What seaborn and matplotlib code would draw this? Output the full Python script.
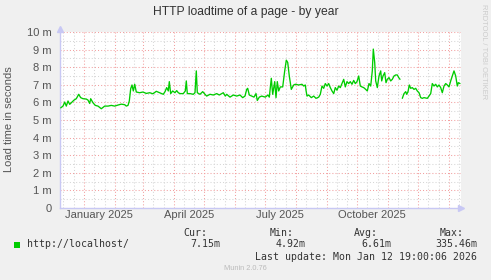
import numpy as np
import pandas as pd
import matplotlib
matplotlib.use("Agg")
import matplotlib.pyplot as plt
import matplotlib.dates as mdates
import matplotlib.transforms as mtransforms
from matplotlib.ticker import MultipleLocator, FuncFormatter, FixedLocator, NullFormatter
from matplotlib.patches import Rectangle
import seaborn as sns

# ---------------- data ----------------
title = "HTTP loadtime of a page - by year"
y_label = "Load time in seconds"
series_name = "http://localhost/"
start_date = "2025-01-01"          # day 0 of the offsets below
x_start, x_end = "2024-12-08", "2026-01-13"

# days since 2025-01-01 (NaN value = gap in data)
days = [-23.3, -21, -19.3, -17.7, -16, -14.3, -12, -10, -7.7, -5.3, -3.3, -1,
        2.3, 4, 5.7, 6.7, 9, 11.3, 14, 17.3, 20.7, 24, 27.3, 30.7, 34, 37.3,
        40.7, 42.3, 44, 45.3, 46.7, 48, 49.3, 50.7, 52.3, 55.7, 59, 62.3, 65.7,
        69, 72.3, 75.7, 79.3, 81, 82.7, 84.3, 85.3, 86.7, 88.7, 91, 92.7, 94.3,
        96, 99.3, 101.3, 102.3, 103.3, 106, 109.3, 111, 112.3, 113.3, 116,
        118.7, 121, 122.7, 126, 129.3, 132.7, 135.3, 137.7, 139.3, 141.3,
        142.7, 146, 149.3, 152.7, 156, 158.7, 161, 162.7, 163.7, 165.3, 167.7,
        170, 172, 173.3, 175.3, 177.7, 181.3, 184, 185.3, 187.3, 188.7, 190.7,
        192, 193.3, 194.7, 196.3, 198.7, 200.7, 202.3, 203.7, 205.3, 207.3,
        209.7, 211.3, 214.7, 218, 219.7, 221.3, 222, 223, 224.7, 227.3, 229.7,
        232, 234.7, 236.3, 238, 239.7, 241.3, 243, 244.7, 246.3, 248, 249.7,
        251.3, 253, 254.7, 256.3, 258, 259.7, 261.3, 263, 264.7, 266.3, 268,
        269.7, 271.3, 273, 274.7, 276.3, 278, 279.7, 281.7, 283.3, 285, 286.7,
        288.3, 289.3, 290.7, 291.7, 293.3, 295, 296.7, 297.7, 299, 300.7, 302,
        303.3, 305, 306.7, 308.3, 310, 311.7, 313.3, 314.7, 316, 317, 318.3,
        320, 321.7, 322.7, 324, 325.3, 326.7, 328.3, 330, 331.7, 333.3, 335,
        336.7, 338.3, 340, 343.3, 345, 346.7, 348.3, 350, 351.7, 353.3, 355,
        356.7, 358.3, 360, 361.7, 363.3, 365, 366.7, 368.3, 370, 371.7, 373.3,
        374.3, 376]
load_ms = [5.69, 5.79, 6.02, 5.79, 6.08, 5.89, 6.02, 6.13, 6.21, 6.46, 6.27, 6.21,
           6.19, 6.13, 5.94, 6.21, 5.98, 5.83, 5.79, 5.64, 5.79, 5.79, 5.83, 5.79,
           5.85, 5.90, 5.87, 5.79, 5.83, 6.08, 6.78, 6.99, 6.65, 7.03, 6.59, 6.55,
           6.59, 6.51, 6.55, 6.49, 6.63, 6.55, 6.46, 6.61, 6.84, 6.65, 7.18, 6.50,
           6.65, 6.55, 6.67, 6.55, 6.50, 6.50, 6.65, 7.22, 6.50, 6.50, 6.46, 6.55,
           7.79, 6.55, 6.46, 6.61, 6.46, 6.36, 6.46, 6.42, 6.50, 6.42, 6.50, 6.55,
           6.36, 6.46, 6.30, 6.42, 6.36, 6.42, 6.27, 6.36, 6.74, 6.80, 6.42, 6.36,
           6.30, 6.50, 6.11, 6.30, 6.36, 6.30, 6.42, 6.30, 7.37, 6.46, 7.18, 6.27,
           7.18, 6.65, 6.88, 6.88, 7.79, 8.40, 8.27, 7.50, 6.74, 6.99, 7.03, 6.99,
           7.03, 6.93, 6.99, 6.69, 6.36, 6.42, 6.27, 6.36, 6.23, 6.30, 6.46, 6.93,
           6.80, 7.07, 6.93, 7.07, 6.84, 6.65, 6.50, 6.84, 6.69, 6.93, 6.84, 7.07,
           7.31, 6.88, 7.18, 7.07, 7.18, 7.03, 7.25, 7.07, 7.18, 7.50, 6.93, 6.88,
           6.84, 6.74, 6.65, 7.07, 6.93, 7.79, 9.03, 8.27, 7.22, 6.84, 7.50, 7.79,
           7.22, 7.50, 7.69, 7.12, 7.31, 7.41, 7.22, 7.31, 7.50, 7.56, 7.56, 7.41,
           7.31, np.nan, 6.23, 6.50, 6.61, 6.46, 6.61, 6.99, 6.80, 6.84, 6.74, 6.80,
           6.65, 6.55, 6.27, 6.23, 6.27, 6.23, 6.36, 6.50, 7.07, 6.93, 7.03, 6.88,
           6.99, 6.84, 6.55, 6.93, 7.07, 6.99, 6.88, 7.22, 7.50, 7.79, 7.50, 6.93,
           7.12, 7.07]

month_labels = ["January 2025", "April 2025", "July 2025", "October 2025"]
month_label_dates = ["2025-01-16", "2025-04-16", "2025-07-16", "2025-10-16"]
y_ticks = [0, 1, 2, 3, 4, 5, 6, 7, 8, 9, 10]
stat_headers = ["Cur:", "Min:", "Avg:", "Max:"]
stat_values = ["7.15m", "4.92m", "6.61m", "335.46m"]
last_update = "Last update: Mon Jan 12 19:00:06 2026"
footer = "Munin 2.0.76"
watermark = "RRDTOOL / TOBI OETIKER"

# ---------------- style ----------------
sns.set_theme(style="white")
plt.rcParams["font.family"] = ["Liberation Sans", "DejaVu Sans"]

W, H = 491, 280
BG = "#F0F0F0"
LINE = "#00CC00"
MAJ = "#F2A0A0"
MIN = "#D6D6D6"
AXC = "#C8C8F4"
TXT = "#555555"

fig = plt.figure(figsize=(W / 100, H / 100), dpi=100, facecolor=BG)
L, R, T, B = 60, 461, 32, 208
ax = fig.add_axes([L / W, 1 - B / H, (R - L) / W, (B - T) / H])
ax.set_facecolor("white")

t0 = pd.Timestamp(start_date)
df = pd.DataFrame({"time": t0 + pd.to_timedelta(days, unit="D"), "value": load_ms})
df["seg"] = df["value"].isna().cumsum()
for _, seg in df.dropna().groupby("seg"):
    sns.lineplot(data=seg, x="time", y="value", color=LINE, linewidth=0.95,
                 estimator=None, sort=False, ax=ax, zorder=5)

ax.set_xlim(pd.Timestamp(x_start), pd.Timestamp(x_end))
ax.set_ylim(0, 10)
ax.set_xlabel("")
ax.set_ylabel("")

# x grid: month starts (red) and thirds of months (grey)
ax.xaxis.set_major_locator(mdates.MonthLocator())
ax.xaxis.set_major_formatter(NullFormatter())
months = pd.date_range("2024-12-01", "2026-02-01", freq="MS")
thirds = []
for m0, m1 in zip(months[:-1], months[1:]):
    span = m1 - m0
    thirds += [m0 + span / 3, m0 + 2 * span / 3]
ax.xaxis.set_minor_locator(FixedLocator(mdates.date2num(thirds)))

ax.yaxis.set_major_locator(FixedLocator(y_ticks))
ax.yaxis.set_minor_locator(MultipleLocator(0.5))
ax.yaxis.set_major_formatter(FuncFormatter(lambda v, p: "0" if v == 0 else f"{int(v)} m"))

dots = (0, (1, 2))
ax.grid(which="major", color=MAJ, linestyle=dots, linewidth=0.75)
ax.grid(which="minor", color=MIN, linestyle=dots, linewidth=0.75)
ax.set_axisbelow(True)

ax.tick_params(axis="x", which="major", length=3, width=0.7, color=MAJ, direction="out")
ax.tick_params(axis="y", which="major", length=2, width=0.7, color=MAJ, direction="out",
               labelsize=8, labelcolor=TXT, pad=4)
ax.tick_params(which="minor", length=0)
ax.tick_params(axis="x", which="major", labelbottom=False)

for s in ["top", "right"]:
    ax.spines[s].set_visible(False)
for s in ["left", "bottom"]:
    ax.spines[s].set_color(AXC)
    ax.spines[s].set_linewidth(1.0)

# axis arrows
ax.plot([1.0], [0], marker=">", color=AXC, markersize=5, transform=ax.transAxes, clip_on=False, zorder=6)
ax.plot([0], [1.015], marker="^", color=AXC, markersize=5, transform=ax.transAxes, clip_on=False, zorder=6)

# month labels
trans = mtransforms.blended_transform_factory(ax.transData, ax.transAxes)
for lab, d in zip(month_labels, month_label_dates):
    ax.text(mdates.date2num(pd.Timestamp(d)), -0.042, lab, transform=trans, ha="center",
            va="center", fontsize=8, color=TXT)

def fx(px):
    return px / W

def fy(py):
    return 1 - py / H

fig.text(fx(245.5), fy(12), title, ha="center", va="center", fontsize=8.7, color="#333333")
fig.text(fx(9), fy(119), y_label, ha="center", va="center", rotation=90, fontsize=8, color=TXT)
fig.text(fx(484), fy(52), watermark, ha="center", va="center", rotation=270, fontsize=5.4,
         color="#CCCCCC")

mono = ["DejaVu Sans Mono"]
fig.patches.append(Rectangle((fx(14), fy(247.5)), 6 / W, 6 / H, transform=fig.transFigure,
                             facecolor=LINE, edgecolor="none"))
fig.text(fx(26.5), fy(244.3), series_name, ha="left", va="center", fontsize=7.1,
         family=mono, color="#333333")
header_ends = [207, 293.3, 378, 464]
value_ends = [220, 306, 391, 477.3]
for h, hx in zip(stat_headers, header_ends):
    fig.text(fx(hx), fy(232.7), h, ha="right", va="center", fontsize=7.1, family=mono, color="#333333")
for v, vx in zip(stat_values, value_ends):
    fig.text(fx(vx), fy(244.3), v, ha="right", va="center", fontsize=7.1, family=mono, color="#333333")
fig.text(fx(477.3), fy(256.7), last_update, ha="right", va="center", fontsize=7.1,
         family=mono, color="#333333")
fig.text(fx(245), fy(268), footer, ha="center", va="center", fontsize=5.3, color="#BBBBBB")

fig.savefig("out.png", dpi=100, facecolor=BG)
